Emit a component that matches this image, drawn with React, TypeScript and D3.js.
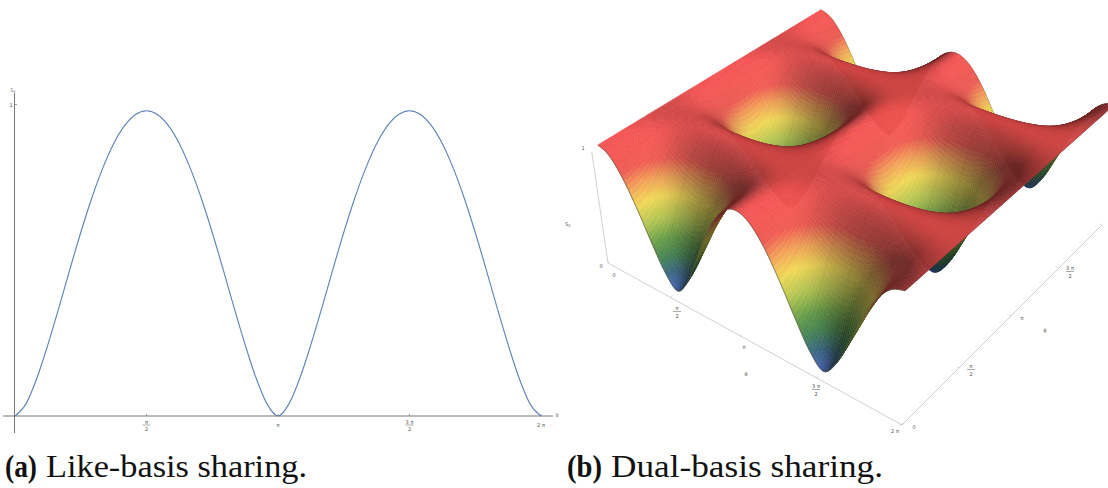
import React, { useMemo } from "react";
import * as d3 from "d3";

const W = 1108;
const H = 488;

// Panel (a): S_E against theta, read every pi/24 from the curve
const curveTheta = d3.range(0, 49);
const curveValues = [
  0, 0.039, 0.122, 0.229, 0.347, 0.47, 0.589, 0.699, 0.795, 0.874, 0.932, 0.968, 0.98,
  0.968, 0.932, 0.874, 0.795, 0.699, 0.589, 0.47, 0.347, 0.229, 0.122, 0.039, 0,
  0.039, 0.122, 0.229, 0.347, 0.47, 0.589, 0.699, 0.795, 0.874, 0.932, 0.968, 0.98,
  0.968, 0.932, 0.874, 0.795, 0.699, 0.589, 0.47, 0.347, 0.229, 0.122, 0.039, 0,
];
const tickLabelsA = [
  { v: 12, num: "π", den: "2" },
  { v: 24, num: "π", den: "" },
  { v: 36, num: "3 π", den: "2" },
  { v: 48, num: "2 π", den: "" },
];

// Panel (b): S_E surface read on a pi/12 grid. Rows are named, then stacked by theta.
const r0 = [1, 1, 1, 1, 1, 1, 1, 1, 1, 1, 1, 1, 1, 1, 1, 1, 1, 1, 1, 1, 1, 1, 1, 1, 1];
const r1 = [.951, .954, .963, .976, .988, .997, 1, .997, .988, .976, .963, .954, .951, .954, .963, .976, .988, .997, 1, .997, .988, .976, .963, .954, .951];
const r2 = [.811, .825, .86, .908, .954, .988, 1, .988, .954, .908, .86, .825, .811, .825, .86, .908, .954, .988, 1, .988, .954, .908, .86, .825, .811];
const r3 = [.601, .631, .709, .811, .908, .976, 1, .976, .908, .811, .709, .631, .601, .631, .709, .811, .908, .976, 1, .976, .908, .811, .709, .631, .601];
const r4 = [.354, .409, .544, .709, .86, .963, 1, .963, .86, .709, .544, .409, .354, .409, .544, .709, .86, .963, 1, .963, .86, .709, .544, .409, .354];
const r5 = [.124, .212, .409, .631, .825, .954, 1, .954, .825, .631, .409, .212, .124, .212, .409, .631, .825, .954, 1, .954, .825, .631, .409, .212, .124];
const r6 = [0, .124, .354, .601, .811, .951, 1, .951, .811, .601, .354, .124, 0, .124, .354, .601, .811, .951, 1, .951, .811, .601, .354, .124, 0];
const surfaceRows = [
  r0, r1, r2, r3, r4, r5, r6, r5, r4, r3, r2, r1, r0,
  r1, r2, r3, r4, r5, r6, r5, r4, r3, r2, r1, r0,
];

const zStops = [0, 0.1, 0.2, 0.32, 0.45, 0.6, 0.72, 0.83, 1];
const zColors = ["#5274cc", "#3f6f8e", "#4b8c5c", "#6ea84e", "#bcd058", "#ffe45c", "#fca85c", "#f25c54", "#ee5050"];

const floorCorners: [number, number][] = [[614, 256], [908, 418], [1108, 218], [826, 110]];
const zLift = -0.0449;
const vanish: [number, number] = [959, 2617];
const axisOffset: [number, number] = [-6, 7];
const REFINE = 6;
const MESH_EVERY = 9;

// unit square to quad homography
function quadHomography(q: [number, number][]) {
  const [[x0, y0], [x1, y1], [x2, y2], [x3, y3]] = q;
  const dx1 = x1 - x2, dx2 = x3 - x2, sx = x0 - x1 + x2 - x3;
  const dy1 = y1 - y2, dy2 = y3 - y2, sy = y0 - y1 + y2 - y3;
  const den = dx1 * dy2 - dx2 * dy1;
  const g = (sx * dy2 - dx2 * sy) / den;
  const h = (dx1 * sy - sx * dy1) / den;
  return { a: x1 - x0 + g * x1, b: x3 - x0 + h * x3, c: x0, d: y1 - y0 + g * y1, e: y3 - y0 + h * y3, f: y0, g, h };
}
const hom = quadHomography(floorCorners);
function project(u: number, v: number, z: number): [number, number] {
  const X = hom.a * u + hom.b * v + hom.c + z * zLift * vanish[0];
  const Y = hom.d * u + hom.e * v + hom.f + z * zLift * vanish[1];
  const Wh = hom.g * u + hom.h * v + 1 + z * zLift;
  return [X / Wh, Y / Wh];
}

function cr(p0: number, p1: number, p2: number, p3: number, t: number) {
  return 0.5 * (2 * p1 + (p2 - p0) * t + (2 * p0 - 5 * p1 + 4 * p2 - p3) * t * t + (3 * p1 - p0 - 3 * p2 + p3) * t * t * t);
}
function refineGrid(g: number[][], n: number) {
  const m = g.length;
  const at = (i: number, j: number) => g[Math.max(0, Math.min(m - 1, i))][Math.max(0, Math.min(m - 1, j))];
  const size = (m - 1) * n + 1;
  const out: number[][] = [];
  for (let a = 0; a < size; a++) {
    const i = Math.min(m - 2, Math.floor(a / n)), s = a / n - i;
    const row: number[] = [];
    for (let b = 0; b < size; b++) {
      const j = Math.min(m - 2, Math.floor(b / n)), t = b / n - j;
      const c = [-1, 0, 1, 2].map((di) => cr(at(i + di, j - 1), at(i + di, j), at(i + di, j + 1), at(i + di, j + 2), t));
      row.push(Math.max(0, Math.min(1, cr(c[0], c[1], c[2], c[3], s))));
    }
    out.push(row);
  }
  return out;
}

function Frac({ x, y, num, den, size = 5, fill = "#555" }: any) {
  if (!den) return <text x={x} y={y + 1.5} fontSize={size} fill={fill} textAnchor="middle" fontFamily="DejaVu Sans">{num}</text>;
  return (
    <g fontSize={size} fill={fill} textAnchor="middle" fontFamily="DejaVu Sans">
      <text x={x} y={y - 2}>{num}</text>
      <line x1={x - 4} x2={x + 4} y1={y - 0.5} y2={y - 0.5} stroke={fill} strokeWidth={0.5} />
      <text x={x} y={y + 5.5}>{den}</text>
    </g>
  );
}

function Surface() {
  const elems = useMemo(() => {
    const fine = refineGrid(surfaceRows, REFINE);
    const n = fine.length - 1;
    const uS = d3.scaleLinear().domain([0, n]).range([0, 1]);
    const vS = d3.scaleLinear().domain([0, n]).range([0, 1]);
    const color = d3.scaleLinear<string>().domain(zStops).range(zColors).interpolate(d3.interpolateRgb);
    const L = [0.62, -0.1, 0.75];
    const lN = Math.hypot(L[0], L[1], L[2]);
    const Zs = 0.5;
    const out: React.ReactElement[] = [];
    const lineGen = d3.line<[number, number]>();
    const P = (i: number, j: number) => project(uS(i), vS(j), fine[i][j]);
    const cl = (k: number) => Math.max(0, Math.min(n, k));
    const sp = REFINE;
    const pt = (p: [number, number]) => `${p[0].toFixed(2)} ${p[1].toFixed(2)}`;
    const backEdge = d3.range(0, n + 1).map((i) => P(i, n));
    out.push(<path key="back" d={lineGen(backEdge) || ""} fill="none" stroke="#6b6b45" strokeWidth={1} />);
    for (let j = n - 1; j >= 0; j--) {
      for (let i = 0; i < n; i++) {
        const z00 = fine[i][j], z10 = fine[i + 1][j], z01 = fine[i][j + 1], z11 = fine[i + 1][j + 1];
        const zm = (z00 + z10 + z01 + z11) / 4;
        const i0 = cl(i - sp + 1), i1 = cl(i + sp), j0 = cl(j - sp + 1), j1 = cl(j + sp);
        const dzu = ((fine[i1][j] + fine[i1][j + 1] - fine[i0][j] - fine[i0][j + 1]) / 2 / (i1 - i0)) * n * Zs;
        const dzv = ((fine[i][j1] + fine[i + 1][j1] - fine[i][j0] - fine[i + 1][j0]) / 2 / (j1 - j0)) * n * Zs;
        const nl = Math.hypot(dzu, dzv, 1);
        const dot = (-dzu * L[0] - dzv * L[1] + L[2]) / (nl * lN);
        const f = Math.min(1.02, Math.max(0.46, 0.36 + 0.68 * dot));
        const base = d3.rgb(color(zm));
        const fill = d3.rgb(base.r * f, base.g * f, base.b * f).formatRgb();
        const a = P(i, j), b = P(i + 1, j), c = P(i + 1, j + 1), e = P(i, j + 1);
        out.push(<path key={`q${i}-${j}`} d={`M${pt(a)}L${pt(b)}L${pt(c)}L${pt(e)}Z`} fill={fill} stroke={fill} strokeWidth={0.5} />);
        if (j % MESH_EVERY === 0 && j > 0) {
          out.push(<path key={`mu${i}-${j}`} d={`M${pt(a)}L${pt(b)}`} stroke="#000" strokeOpacity={0.1} strokeWidth={0.5} fill="none" />);
        }
        if (i % MESH_EVERY === 0 && i > 0) {
          out.push(<path key={`mv${i}-${j}`} d={`M${pt(a)}L${pt(e)}`} stroke="#000" strokeOpacity={0.1} strokeWidth={0.5} fill="none" />);
        }
      }
    }
    const front = d3.range(0, n + 1).map((i) => P(i, 0));
    const side = d3.range(0, n + 1).map((j) => P(n, j));
    out.push(<path key="front" d={lineGen(front) || ""} fill="none" stroke="#5a5a40" strokeWidth={0.7} />);
    out.push(<path key="side" d={lineGen(side) || ""} fill="none" stroke="#8a3a3a" strokeWidth={0.5} />);
    return out;
  }, []);
  return <g>{elems}</g>;
}

function Axes3D() {
  const off = (p: [number, number]): [number, number] => [p[0] + axisOffset[0], p[1] + axisOffset[1]];
  const thetaT = d3.scaleLinear().domain([0, 4]).range([0, 1]);
  const phiT = d3.scaleLinear().domain([0, 4]).range([0, 1]);
  const line = d3.line<[number, number]>();
  const a0 = off(project(0, 0, 0));
  const aTop = off(project(0, 0, 1));
  const b0 = off(project(1, 0, 0));
  const c0 = off(project(1, 1, 0));
  const c = "#c4c4c4";
  return (
    <g>
      <path d={line([aTop, a0, b0, c0]) || ""} fill="none" stroke={c} strokeWidth={0.8} />
      {[0, 1, 2, 3, 4].map((k) => {
        const p = off(project(thetaT(k), 0, 0));
        return <line key={"t" + k} x1={p[0]} y1={p[1]} x2={p[0] + 1} y2={p[1] - 2.5} stroke={c} strokeWidth={0.6} />;
      })}
      {[0, 1, 2, 3, 4].map((k) => {
        const p = off(project(1, phiT(k), 0));
        return <line key={"p" + k} x1={p[0]} y1={p[1]} x2={p[0] - 2.5} y2={p[1] - 1} stroke={c} strokeWidth={0.6} />;
      })}
      <g fontSize={5} fill="#555" fontFamily="DejaVu Sans" textAnchor="middle">
        <text x={583} y={150}>1</text>
        <text x={601} y={268}>0</text>
        <text x={568} y={226}>S<tspan fontSize={3.5} dy={1}>E</tspan></text>
        <text x={614} y={277}>0</text>
        <text x={744} y={349}>π</text>
        <text x={746} y={376}>θ</text>
        <text x={895} y={433}>2 π</text>
        <text x={914} y={429}>0</text>
        <text x={1022} y={320}>π</text>
        <text x={1045} y={332}>ϕ</text>
      </g>
      <Frac x={677} y={312} num="π" den="2" />
      <Frac x={816} y={390} num="3 π" den="2" />
      <Frac x={971} y={370} num="π" den="2" />
      <Frac x={1070} y={272} num="3 π" den="2" />
    </g>
  );
}

function Panel2D() {
  const x = d3.scaleLinear().domain([0, 48]).range([15, 541]);
  const y = d3.scaleLinear().domain([0, 1]).range([416, 104.5]);
  const line = d3.line<number>().x((_, i) => x(curveTheta[i])).y((d) => y(d)).curve(d3.curveMonotoneX);
  return (
    <g>
      <line x1={3} x2={553} y1={416} y2={416} stroke="#777" strokeWidth={1} />
      <line x1={14.5} x2={14.5} y1={93} y2={433} stroke="#777" strokeWidth={1} />
      <line x1={14.5} x2={17} y1={104.5} y2={104.5} stroke="#777" strokeWidth={0.7} />
      {tickLabelsA.map((t) => (
        <line key={t.v} x1={x(t.v)} x2={x(t.v)} y1={416} y2={414} stroke="#777" strokeWidth={0.7} />
      ))}
      {tickLabelsA.map((t) => (
        <Frac key={t.v} x={x(t.v)} y={425.5} num={t.num} den={t.den} />
      ))}
      <text x={11} y={106.5} fontSize={5} fill="#555" fontFamily="DejaVu Sans" textAnchor="middle">1</text>
      <text x={13} y={92} fontSize={5} fill="#777" fontFamily="DejaVu Sans" textAnchor="middle">S<tspan fontSize={3.5} dy={1}>E</tspan></text>
      <text x={557} y={417} fontSize={5} fill="#777" fontFamily="DejaVu Sans" textAnchor="middle">θ</text>
      <path d={line(curveValues) || ""} fill="none" stroke="#5b82b8" strokeWidth={1.1} />
    </g>
  );
}

export default function App() {
  return (
    <svg width={W} height={H} viewBox={`0 0 ${W} ${H}`} style={{ position: "fixed", left: 0, top: 0, background: "#fff" }}>
      <Panel2D />
      <Axes3D />
      <Surface />
      <g fontFamily="Liberation Serif" fontSize={32} fill="#111">
        <text x={5} y={477} fontWeight="bold" textLength={32} lengthAdjust="spacingAndGlyphs">(a)</text>
        <text x={46} y={477} textLength={261} lengthAdjust="spacingAndGlyphs">Like-basis sharing.</text>
        <text x={567} y={477} fontWeight="bold" textLength={35} lengthAdjust="spacingAndGlyphs">(b)</text>
        <text x={611} y={477} textLength={272} lengthAdjust="spacingAndGlyphs">Dual-basis sharing.</text>
      </g>
    </svg>
  );
}
